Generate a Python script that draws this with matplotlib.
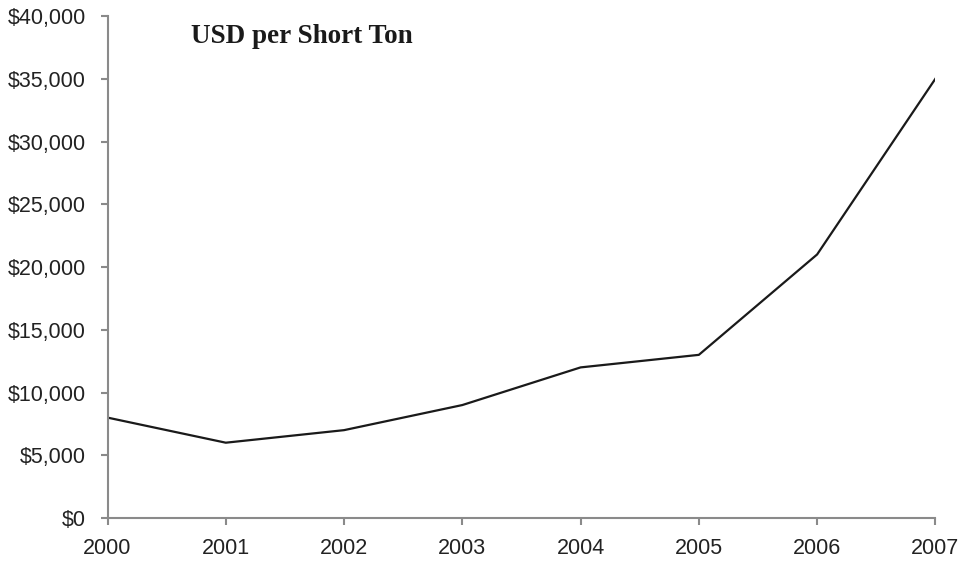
import matplotlib
matplotlib.use('agg')
import matplotlib.pyplot as plt
from matplotlib.ticker import FuncFormatter

# price data
years = [2000, 2001, 2002, 2003, 2004, 2005, 2006, 2007]
price = [8000, 6000, 7000, 9000, 12000, 13000, 21000, 35000]
y_ticks = list(range(0, 40001, 5000))

spine_col = '#8a8a8a'

fig = plt.figure(figsize=(9.66, 5.62), dpi=100)
ax = fig.add_axes([0.1113, 0.0783, 0.857, 0.8932])

ax.plot(years, price, color='#1a1a1a', lw=1.6)

ax.set_xlim(years[0], years[-1])
ax.set_ylim(0, 40000)
ax.set_xticks(years)
ax.set_yticks(y_ticks)
ax.yaxis.set_major_formatter(FuncFormatter(lambda v, p: '${:,.0f}'.format(v)))

for s in ['top', 'right']:
	ax.spines[s].set_visible(False)
for s in ['left', 'bottom']:
	ax.spines[s].set_color(spine_col)
	ax.spines[s].set_linewidth(1.5)

ax.tick_params(axis='both', direction='out', length=5, width=1.5, color=spine_col,
	labelsize=15.5, labelcolor='#222222')
ax.tick_params(axis='y', pad=10.5)
ax.tick_params(axis='x', pad=9.5)
for lab in ax.get_xticklabels() + ax.get_yticklabels():
	lab.set_fontfamily('Liberation Sans')

ax.text(0.101, 0.96, 'USD per Short Ton', transform=ax.transAxes,
	fontsize=19.5, fontweight='bold', family='Liberation Serif', color='#1a1a1a',
	ha='left', va='center')

fig.savefig('out.png', dpi=100)
